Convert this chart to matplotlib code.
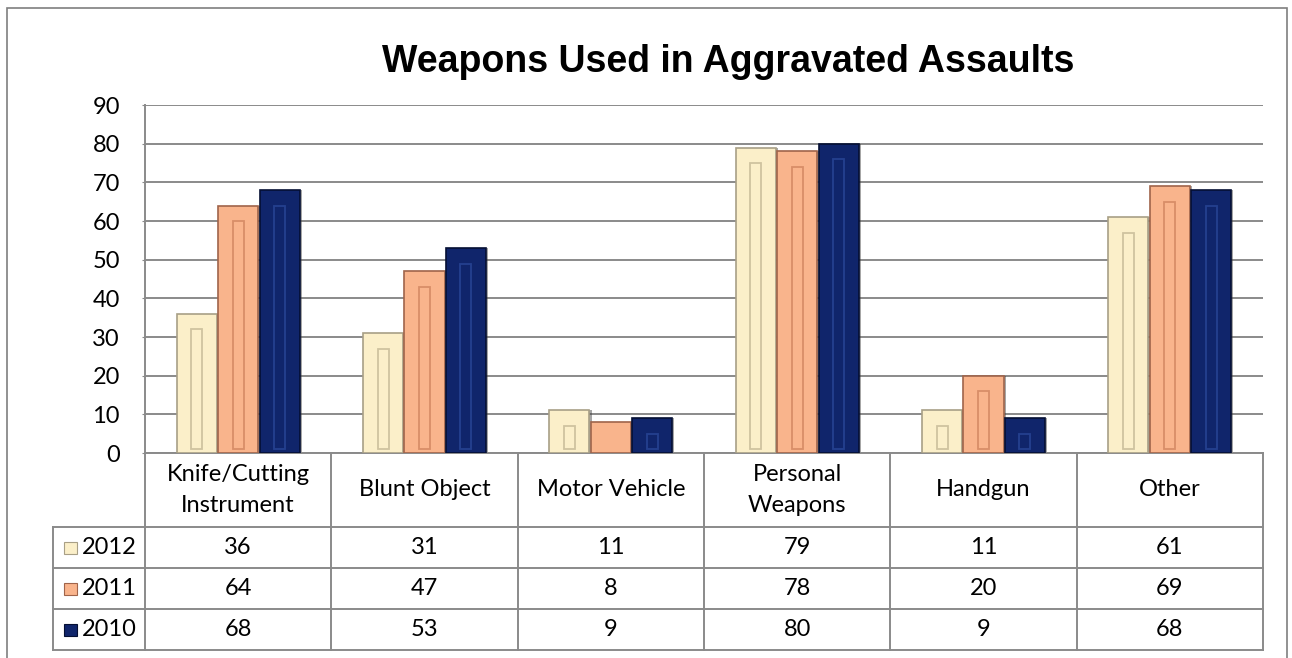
import numpy as np
import matplotlib.pyplot as plt
from matplotlib.patches import Rectangle
from matplotlib.lines import Line2D
from matplotlib.transforms import blended_transform_factory

categories = ['Knife/Cutting\nInstrument', 'Blunt Object', 'Motor Vehicle',
              'Personal\nWeapons', 'Handgun', 'Other']
years = ['2012', '2011', '2010']
v2012 = [36, 31, 11, 79, 11, 61]
v2011 = [64, 47, 8, 78, 20, 69]
v2010 = [68, 53, 9, 80, 9, 68]
series = [v2012, v2011, v2010]
colors = ['#FBEFC9', '#F9B48C', '#10256B']
edges = ['#a89f86', '#a0644a', '#050f33']
grooves = ['#cfc3a0', '#d88e68', '#24408f']

W, H = 1292, 658
fig = plt.figure(figsize=(W / 100, H / 100), dpi=100)
plt.rcParams['font.family'] = ['Lato', 'DejaVu Sans']
fs = 17

# axes placement in pixels
x0, x1, ytop, ybot = 145, 1263, 105, 453
ax = fig.add_axes([x0 / W, 1 - ybot / H, (x1 - x0) / W, (ybot - ytop) / H])

x = np.arange(len(categories))
bw = 0.215
step = 0.222
for i, vals in enumerate(series):
    pos = x + (i - 1) * step
    vals = np.array(vals)
    # shadow
    ax.bar(pos + 0.012, vals, bw, color='#3a3a3a', alpha=0.45, zorder=2)
    ax.bar(pos, vals, bw, color=colors[i], edgecolor=edges[i], linewidth=1.2, zorder=3)
    # inner groove (bevel look), only on taller bars
    tall = vals >= 9
    ax.bar(pos[tall], vals[tall] - 5, bw * 0.27, bottom=1, color='none',
           edgecolor=grooves[i], linewidth=1.3, zorder=4)

ax.set_xlim(-0.5, len(categories) - 0.5)
ax.set_ylim(0, 90)
ax.set_yticks(np.arange(0, 91, 10))
ax.set_xticks([])
ax.grid(axis='y', color='#8a8a8a', linewidth=1.4, zorder=0)
ax.set_axisbelow(True)
for s in ['top', 'right']:
    ax.spines[s].set_visible(False)
ax.spines['left'].set_color('#8a8a8a')
ax.spines['left'].set_linewidth(1.4)
ax.spines['bottom'].set_color('#8a8a8a')
ax.spines['bottom'].set_linewidth(1.4)
ax.tick_params(axis='y', length=2, color='#8a8a8a', pad=16, labelsize=fs)

fig.text(728 / W, 1 - 62 / H, 'Weapons Used in Aggravated Assaults',
         ha='center', va='center', fontsize=27, fontweight='bold',
         family='Liberation Sans')

# data table
ah = ybot - ytop
def yf(px):
    return -(px - ybot) / ah

aw = x1 - x0
def xf(px):
    return (px - x0) / aw

tr = blended_transform_factory(ax.transData, ax.transAxes)
lc = '#8a8a8a'
rows = [527, 568, 609, 650]
# horizontal lines
for r in rows:
    ax.add_line(Line2D([xf(53), 1], [yf(r)] * 2, transform=ax.transAxes,
                       color=lc, lw=1.4, clip_on=False))
# vertical lines
ax.add_line(Line2D([xf(53)] * 2, [yf(rows[0]), yf(rows[-1])], transform=ax.transAxes,
                   color=lc, lw=1.4, clip_on=False))
for b in np.arange(len(categories) + 1) - 0.5:
    ax.add_line(Line2D([b, b], [0, yf(rows[-1])], transform=tr,
                       color=lc, lw=1.4, clip_on=False))

for j, c in enumerate(categories):
    ax.text(x[j], (yf(ybot) + yf(rows[0])) / 2, c, transform=tr, ha='center',
            va='center', fontsize=fs, linespacing=1.6, clip_on=False)

for i, vals in enumerate(series):
    yc = (yf(rows[i]) + yf(rows[i + 1])) / 2
    ax.add_patch(Rectangle((xf(64), yc - 6 / ah), 13 / aw, 12 / ah, transform=ax.transAxes,
                           facecolor=colors[i], edgecolor=edges[i], lw=0.8, clip_on=False))
    ax.text(xf(82), yc, years[i], transform=ax.transAxes, ha='left', va='center',
            fontsize=fs, clip_on=False)
    for j, v in enumerate(vals):
        ax.text(x[j], yc, str(v), transform=tr, ha='center', va='center',
                fontsize=fs, clip_on=False)

# outer chart border
fig.patches.append(Rectangle((7 / W, -0.05), (1287 - 7) / W, 1.05 - 8 / H,
                             transform=fig.transFigure, fill=False,
                             edgecolor='#7f7f7f', lw=1.2))

fig.savefig('out.png', dpi=100)
